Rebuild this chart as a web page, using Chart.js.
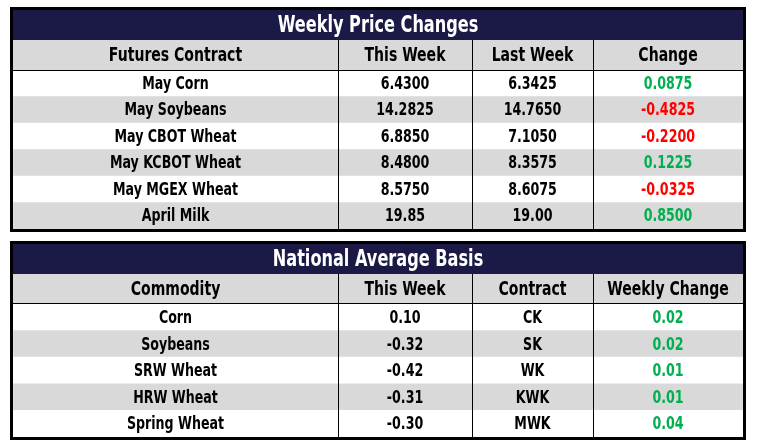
<!DOCTYPE html>
<html>
<head>
<meta charset="utf-8">
<title>Weekly Price Changes</title>
<script src="https://cdn.jsdelivr.net/npm/chart.js@4.4.1/dist/chart.umd.min.js"></script>
<style>
	body { margin: 0; background: #fff; width: 757px; height: 447px; position: relative; overflow: hidden; }
	.tbl { position: absolute; left: 10px; width: 736px; }
	#priceBox { top: 7px; height: 225px; }
	#basisBox { top: 241px; height: 199px; }
</style>
</head>
<body>
<div class="tbl" id="priceBox"><canvas id="priceTable"></canvas></div>
<div class="tbl" id="basisBox"><canvas id="basisTable"></canvas></div>
<script>
// weekly price changes
var priceHeaders = ['Futures Contract', 'This Week', 'Last Week', 'Change'];
var contracts = ['May Corn', 'May Soybeans', 'May CBOT Wheat', 'May KCBOT Wheat', 'May MGEX Wheat', 'April Milk'];
var thisWeek = [6.4300, 14.2825, 6.8850, 8.4800, 8.5750, 19.85];
var lastWeek = [6.3425, 14.7650, 7.1050, 8.3575, 8.6075, 19.00];
var change = [0.0875, -0.4825, -0.2200, 0.1225, -0.0325, 0.8500];
var priceDecimals = [4, 4, 4, 4, 4, 2];

// national average basis
var basisHeaders = ['Commodity', 'This Week', 'Contract', 'Weekly Change'];
var commodities = ['Corn', 'Soybeans', 'SRW Wheat', 'HRW Wheat', 'Spring Wheat'];
var basisThisWeek = [0.10, -0.32, -0.42, -0.31, -0.30];
var basisContracts = ['CK', 'SK', 'WK', 'KWK', 'MWK'];
var basisChange = [0.02, 0.02, 0.01, 0.01, 0.04];

var navy = '#1b1a47';
var gray = '#d9d9d9';
var green = '#00b050';
var red = '#ff0000';
var fontName = "'DejaVu Sans Condensed', 'DejaVu Sans', sans-serif";
var squeeze = 0.78; // condensed look
var colEdges = [0, 325, 459, 580, 730];
var frame = 3, titleH = 30, headH = 30;

function sign_color(v){
	return v < 0 ? red : green;
}

function build_price_rows(){
	var rows = [];
	contracts.forEach(function(name, i){
		rows.push({
			cells: [name, thisWeek[i].toFixed(priceDecimals[i]), lastWeek[i].toFixed(priceDecimals[i]), change[i].toFixed(4)],
			colors: ['#000', '#000', '#000', sign_color(change[i])]
		});
	});
	return rows;
}

function build_basis_rows(){
	var rows = [];
	commodities.forEach(function(name, i){
		rows.push({
			cells: [name, basisThisWeek[i].toFixed(2), basisContracts[i], basisChange[i].toFixed(2)],
			colors: ['#000', '#000', '#000', sign_color(basisChange[i])]
		});
	});
	return rows;
}

function draw_text(c, txt, x, y){
	c.save();
	c.translate(x, y);
	c.scale(squeeze, 1);
	c.fillText(txt, 0, 0);
	c.restore();
}

function col_center(xs, k){
	return (xs.getPixelForValue(colEdges[k]) + xs.getPixelForValue(colEdges[k + 1])) / 2;
}

var tablePlugin = {
	id: 'tableCells',
	beforeDraw: function(chart){
		var c = chart.ctx;
		var area = chart.chartArea;
		var xs = chart.scales.x;
		var headTop = area.top - headH;
		c.save();
		c.fillStyle = '#fff';
		c.fillRect(0, 0, chart.width, chart.height);
		// title band
		c.fillStyle = navy;
		c.fillRect(area.left, 0, area.right - area.left, headTop);
		// column header band
		c.fillStyle = gray;
		c.fillRect(area.left, headTop, area.right - area.left, headH);
		c.strokeStyle = '#000';
		c.lineWidth = 1;
		for(var k = 1; k < colEdges.length - 1; k++){
			var px = Math.round(xs.getPixelForValue(colEdges[k])) + 0.5;
			c.beginPath();
			c.moveTo(px, headTop);
			c.lineTo(px, area.top);
			c.stroke();
		}
		c.restore();
	},
	afterDatasetsDraw: function(chart){
		var c = chart.ctx;
		var opts = chart.options.plugins.tableCells;
		var area = chart.chartArea;
		var xs = chart.scales.x;
		var ys = chart.scales.y;
		c.save();
		c.textAlign = 'center';
		c.textBaseline = 'middle';
		c.font = 'bold 23px ' + fontName;
		c.fillStyle = '#fff';
		draw_text(c, opts.title, (area.left + area.right) / 2, frame + titleH / 2 + 1);
		c.font = 'bold 20px ' + fontName;
		c.fillStyle = '#000';
		opts.headers.forEach(function(txt, k){
			draw_text(c, txt, col_center(xs, k), area.top - headH / 2 + 1);
		});
		c.font = 'bold 18px ' + fontName;
		opts.rows.forEach(function(row, r){
			var py = ys.getPixelForValue(r);
			row.cells.forEach(function(txt, k){
				c.fillStyle = row.colors[k];
				draw_text(c, txt, col_center(xs, k), py + 1);
			});
		});
		c.restore();
	},
	afterDraw: function(chart){
		// thick outer frame
		var c = chart.ctx;
		c.save();
		c.strokeStyle = '#000';
		c.lineWidth = frame;
		c.strokeRect(frame / 2, frame / 2, chart.width - frame, chart.height - frame);
		c.restore();
	}
};

function make_table(canvasId, title, headers, rows){
	var ctx = document.getElementById(canvasId).getContext('2d');
	var rowColors = rows.map(function(row, r){
		return (r % 2 === 0) ? '#ffffff' : gray;
	});
	return new Chart(ctx, {
		type: 'bar',
		data: {
			labels: rows.map(function(row){ return row.cells[0]; }),
			datasets: [{
				data: rows.map(function(){ return [colEdges[0], colEdges[colEdges.length - 1]]; }),
				backgroundColor: rowColors,
				borderWidth: 0,
				barPercentage: 1,
				categoryPercentage: 1
			}]
		},
		options: {
			indexAxis: 'y',
			responsive: true,
			maintainAspectRatio: false,
			animation: false,
			layout: { padding: { top: frame + titleH + headH, left: frame, right: frame, bottom: frame } },
			plugins: {
				legend: { display: false },
				tooltip: { enabled: false },
				title: { display: false },
				tableCells: { rows: rows, headers: headers, title: title }
			},
			scales: {
				x: {
					type: 'linear',
					min: colEdges[0],
					max: colEdges[colEdges.length - 1],
					border: { display: false },
					ticks: { display: false },
					afterBuildTicks: function(axis){
						axis.ticks = colEdges.map(function(v){ return {value: v}; });
					},
					grid: {
						z: 1,
						drawTicks: false,
						lineWidth: 1,
						color: function(c){
							var v = c.tick ? c.tick.value : -1;
							return (v > colEdges[0] && v < colEdges[colEdges.length - 1]) ? '#000' : 'rgba(0,0,0,0)';
						}
					}
				},
				y: {
					type: 'category',
					offset: true,
					border: { display: false },
					ticks: { display: false },
					grid: {
						z: 1,
						offset: true,
						drawTicks: false,
						lineWidth: 1,
						color: function(c){
							// only the rule under the column headers
							return c.index === 0 ? '#000' : 'rgba(0,0,0,0)';
						}
					}
				}
			}
		},
		plugins: [tablePlugin]
	});
}

make_table('priceTable', 'Weekly Price Changes', priceHeaders, build_price_rows());
make_table('basisTable', 'National Average Basis', basisHeaders, build_basis_rows());
</script>
</body>
</html>
